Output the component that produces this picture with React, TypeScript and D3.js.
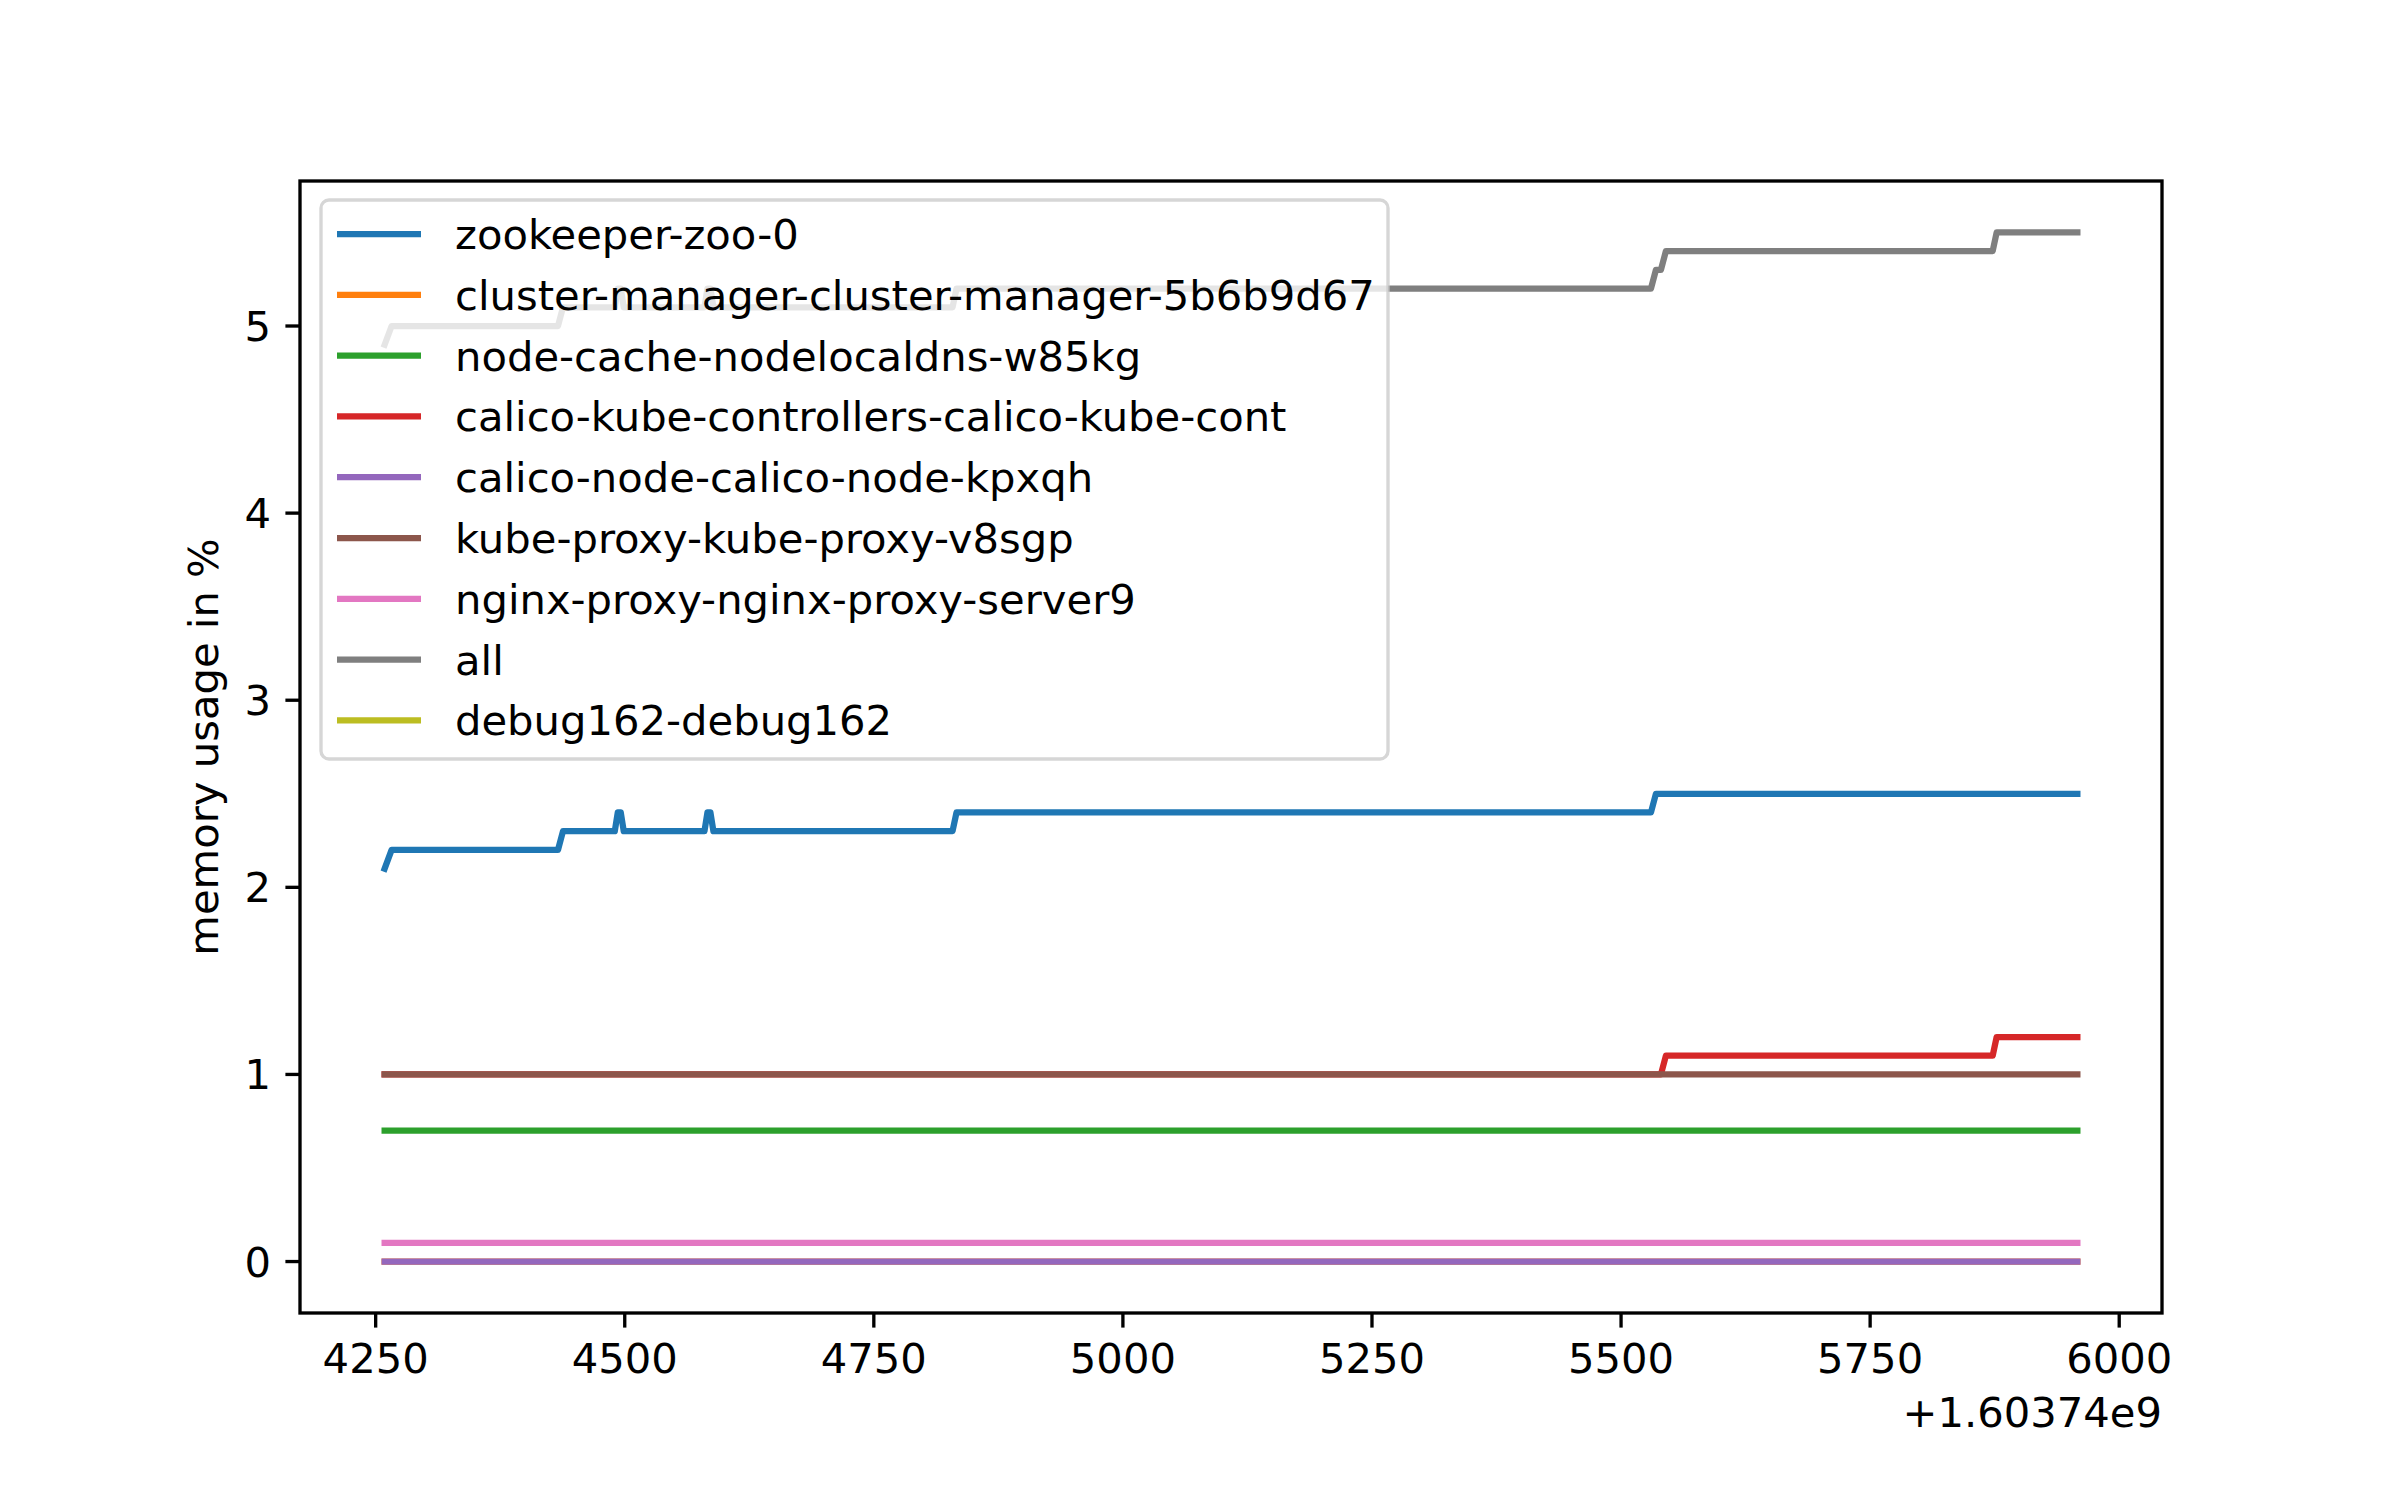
import { useRef, useEffect } from 'react';
import * as d3 from 'd3';

type Pt = [number, number];

// time offsets (+1.60374e9) and memory %
const zookeeper: Pt[] = [
  [4259, 2.1], [4266, 2.2], [4433, 2.2], [4438, 2.3], [4490, 2.3], [4493, 2.4], [4496, 2.4], [4499, 2.3],
  [4580, 2.3], [4583, 2.4], [4586, 2.4], [4589, 2.3], [4829, 2.3], [4833, 2.4], [5530, 2.4], [5535, 2.5],
  [5958, 2.5],
];
const clusterManager: Pt[] = [[4259, 0], [5958, 0]];
const nodeCache: Pt[] = [[4259, 0.7], [5958, 0.7]];
const calicoKube: Pt[] = [[4259, 1.0], [5540, 1.0], [5545, 1.1], [5873, 1.1], [5877, 1.2], [5958, 1.2]];
const calicoNode: Pt[] = [[4259, 0], [5958, 0]];
const kubeProxy: Pt[] = [[4259, 1.0], [5958, 1.0]];
const nginxProxy: Pt[] = [[4259, 0.1], [5958, 0.1]];
const allPods: Pt[] = [
  [4259, 4.9], [4266, 5.0], [4433, 5.0], [4438, 5.1], [4490, 5.1], [4493, 5.2], [4496, 5.2], [4499, 5.1],
  [4580, 5.1], [4583, 5.2], [4586, 5.2], [4589, 5.1], [4829, 5.1], [4833, 5.2], [5530, 5.2], [5535, 5.3],
  [5540, 5.3], [5545, 5.4], [5873, 5.4], [5877, 5.5], [5958, 5.5],
];
const debug162: Pt[] = [];

const seriesNames = [
  'zookeeper-zoo-0',
  'cluster-manager-cluster-manager-5b6b9d67',
  'node-cache-nodelocaldns-w85kg',
  'calico-kube-controllers-calico-kube-cont',
  'calico-node-calico-node-kpxqh',
  'kube-proxy-kube-proxy-v8sgp',
  'nginx-proxy-nginx-proxy-server9',
  'all',
  'debug162-debug162',
];
const seriesData = [zookeeper, clusterManager, nodeCache, calicoKube, calicoNode, kubeProxy, nginxProxy, allPods, debug162];
const colors = ['#1f77b4', '#ff7f0e', '#2ca02c', '#d62728', '#9467bd', '#8c564b', '#e377c2', '#7f7f7f', '#bcbd22'];
const xTicks = [4250, 4500, 4750, 5000, 5250, 5500, 5750, 6000];
const yTicks = [0, 1, 2, 3, 4, 5];

const W = 2400;
const H = 1500;
const M = { left: 300, right: 2162, top: 181, bottom: 1313 };
const FS = 41.7;
const LW = 6.25;

export default function App() {
  const svgRef = useRef<SVGSVGElement>(null);

  useEffect(() => {
    const svg = d3.select(svgRef.current);
    svg.selectAll('*').remove();
    const font = 'DejaVu Sans';

    svg.append('rect').attr('width', W).attr('height', H).attr('fill', '#fff');

    const x = d3.scaleLinear().domain([4174.05, 6042.95]).range([M.left, M.right]);
    const y = d3.scaleLinear().domain([-0.275, 5.775]).range([M.bottom, M.top]);

    const plot = svg.append('g');
    const line = d3.line<Pt>().x((d) => x(d[0])).y((d) => y(d[1]));
    seriesData.forEach((s, i) => {
      if (!s.length) return;
      plot
        .append('path')
        .attr('d', line(s))
        .attr('fill', 'none')
        .attr('stroke', colors[i])
        .attr('stroke-width', LW)
        .attr('stroke-linecap', 'square')
        .attr('stroke-linejoin', 'round');
    });

    // spines
    svg
      .append('rect')
      .attr('x', M.left)
      .attr('y', M.top)
      .attr('width', M.right - M.left)
      .attr('height', M.bottom - M.top)
      .attr('fill', 'none')
      .attr('stroke', '#000')
      .attr('stroke-width', 3.33);

    xTicks.forEach((t) => {
      svg.append('line').attr('x1', x(t)).attr('x2', x(t)).attr('y1', M.bottom).attr('y2', M.bottom + 14.6)
        .attr('stroke', '#000').attr('stroke-width', 3.33);
      svg.append('text').attr('x', x(t)).attr('y', M.bottom + 60).attr('text-anchor', 'middle')
        .attr('font-family', font).attr('font-size', FS).text(t);
    });
    yTicks.forEach((t) => {
      svg.append('line').attr('x1', M.left - 14.6).attr('x2', M.left).attr('y1', y(t)).attr('y2', y(t))
        .attr('stroke', '#000').attr('stroke-width', 3.33);
      svg.append('text').attr('x', M.left - 29).attr('y', y(t) + 15).attr('text-anchor', 'end')
        .attr('font-family', font).attr('font-size', FS).text(t);
    });

    svg.append('text').attr('x', M.right).attr('y', M.bottom + 114).attr('text-anchor', 'end')
      .attr('font-family', font).attr('font-size', FS).text('+1.60374e9');

    svg.append('text')
      .attr('transform', `translate(${218},${(M.top + M.bottom) / 2}) rotate(-90)`)
      .attr('text-anchor', 'middle')
      .attr('font-family', font).attr('font-size', FS).text('memory usage in %');

    // legend
    const lx = 321, ly = 200, lw = 1067, lh = 559, rowH = 60.8;
    svg.append('rect').attr('x', lx).attr('y', ly).attr('width', lw).attr('height', lh).attr('rx', 8)
      .attr('fill', 'rgba(255,255,255,0.8)').attr('stroke', 'rgba(204,204,204,0.8)').attr('stroke-width', 3.33);
    seriesNames.forEach((name, i) => {
      const cy = ly + 34 + i * rowH;
      svg.append('line').attr('x1', 337).attr('x2', 421).attr('y1', cy).attr('y2', cy)
        .attr('stroke', colors[i]).attr('stroke-width', LW);
      svg.append('text').attr('x', 455).attr('y', cy + 15).attr('font-family', font).attr('font-size', FS)
        .text(name);
    });
  }, []);

  return <svg ref={svgRef} width={W} height={H} style={{ position: 'absolute', left: 0, top: 0 }} />;
}
